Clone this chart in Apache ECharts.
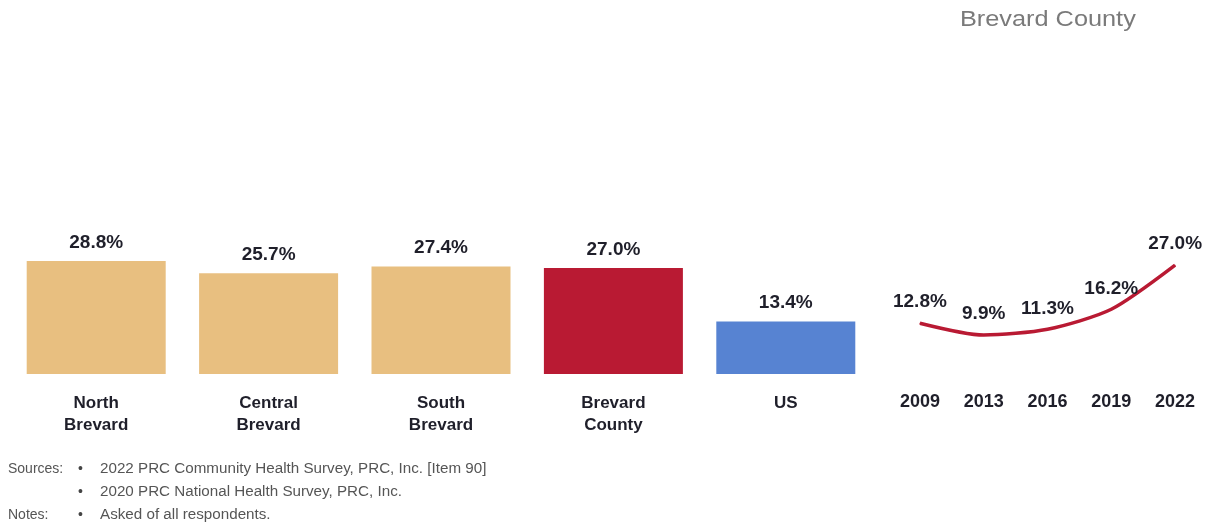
<!DOCTYPE html>
<html>
<head>
<meta charset="utf-8">
<script src="https://cdn.jsdelivr.net/npm/echarts@6/dist/echarts.min.js"></script>
<style>
  html, body { margin: 0; padding: 0; background: #fff; }
  #chart { width: 1209px; height: 527px; }
</style>
</head>
<body>
<div id="chart"></div>
<script>
// Area comparison (bars) and county trend (line)
const areaNames = ['North\nBrevard', 'Central\nBrevard', 'South\nBrevard', 'Brevard\nCounty', 'US'];
const areaValues = [28.8, 25.7, 27.4, 27.0, 13.4];
const areaColors = ['#E8BF80', '#E8BF80', '#E8BF80', '#B91A33', '#5783D2'];

const trendYears = ['2009', '2013', '2016', '2019', '2022'];
const trendValues = [12.8, 9.9, 11.3, 16.2, 27.0];

const trendTitle = 'Brevard County';
const sourceLines = [
  ['Sources:', '2022 PRC Community Health Survey, PRC, Inc. [Item 90]'],
  ['', '2020 PRC National Health Survey, PRC, Inc.'],
  ['Notes:', 'Asked of all respondents.']
];

const FONT = 'Arial, "Liberation Sans", sans-serif';
const labelColor = '#1f1f2a';

// title over the trend panel, slightly widened
const graphics = [{
  type: 'text', x: 960, y: 9, scaleX: 1.15,
  style: { text: trendTitle, font: '22px ' + FONT, fill: '#7a7a7a' }
}];

// footnotes
const footY = [470, 493, 516];
sourceLines.forEach((row, i) => {
  if (row[0]) {
    graphics.push({ type: 'text', x: 8, y: footY[i] - 8,
      style: { text: row[0], font: '14px ' + FONT, fill: '#555' } });
  }
  graphics.push({ type: 'text', x: 78, y: footY[i] - 8,
    style: { text: '\u2022', font: '14px ' + FONT, fill: '#444' } });
  graphics.push({ type: 'text', x: 100, y: footY[i] - 8, scaleX: 1.085,
    style: { text: row[1], font: '14px ' + FONT, fill: '#555' } });
});

const valueLabel = {
  show: true, position: 'top',
  formatter: p => Number(p.value).toFixed(1) + '%',
  fontFamily: FONT, fontSize: 19, fontWeight: 'bold', color: labelColor
};

const chart = echarts.init(document.getElementById('chart'), null, { renderer: 'canvas' });
chart.setOption({
  animation: false,
  backgroundColor: '#ffffff',
  grid: [
    { left: 10, right: 1209 - 872, top: 217, bottom: 527 - 374, containLabel: false },
    { left: 888, right: 2, top: 212, bottom: 527 - 375.5, containLabel: false }
  ],
  xAxis: [
    {
      type: 'category', gridIndex: 0, data: areaNames,
      axisLine: { show: false }, axisTick: { show: false },
      axisLabel: { margin: 18, fontFamily: FONT, fontSize: 17, fontWeight: 'bold', color: labelColor, lineHeight: 22 }
    },
    {
      type: 'category', gridIndex: 1, data: trendYears, boundaryGap: true,
      axisLine: { show: false }, axisTick: { show: false },
      axisLabel: { margin: 16, fontFamily: FONT, fontSize: 18, fontWeight: 'bold', color: labelColor, lineHeight: 22 }
    }
  ],
  yAxis: [
    { type: 'value', gridIndex: 0, min: 0, max: 40, show: false },
    { type: 'value', gridIndex: 1, min: 0, max: 40, show: false }
  ],
  series: [
    {
      type: 'bar', xAxisIndex: 0, yAxisIndex: 0,
      data: areaValues.map((v, i) => ({ value: v, itemStyle: { color: areaColors[i] } })),
      barWidth: 139,
      label: Object.assign({}, valueLabel, { distance: 9 })
    },
    {
      type: 'line', xAxisIndex: 1, yAxisIndex: 1,
      data: trendValues, smooth: 0.25,
      showSymbol: true, symbol: 'circle', symbolSize: 1,
      itemStyle: { color: '#B91A33' },
      lineStyle: { color: '#B91A33', width: 3.5 },
      label: Object.assign({}, valueLabel, { distance: 11 })
    }
  ],
  graphic: graphics
});
</script>
</body>
</html>
